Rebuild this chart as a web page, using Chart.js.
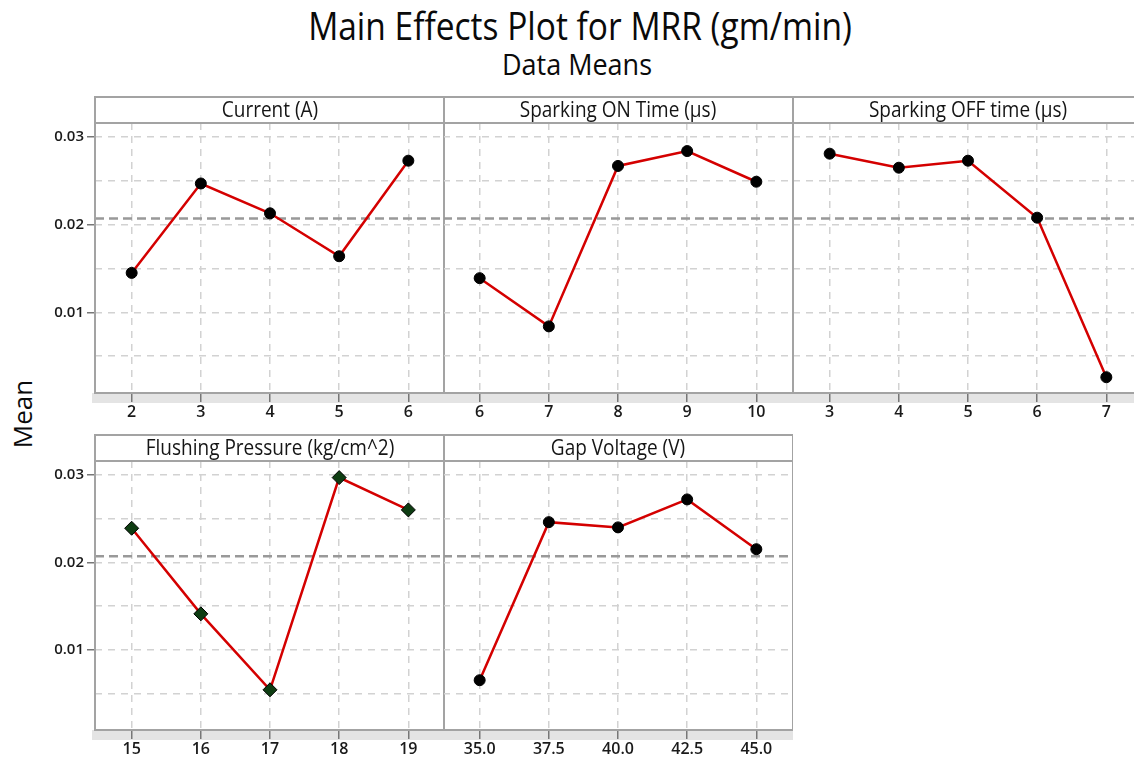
<!DOCTYPE html>
<html>
<head>
<meta charset="utf-8">
<script src="https://cdn.jsdelivr.net/npm/chart.js@4.4.1/dist/chart.umd.min.js"></script>
<style>
  body { margin: 0; background: #fff; font-family: "Open Sans", sans-serif; }
  #page { position: relative; width: 1134px; height: 763px; overflow: hidden; }
  canvas { position: absolute; }
  .txt { position: absolute; color: #0a0a0a; text-align: center; white-space: nowrap; }
</style>
</head>
<body>
<div id="page">
  <div class="txt" style="left:230px; top:2px; width:700px; font-size:33.5px; transform:scaleY(1.12);">Main Effects Plot for MRR (gm/min)</div>
  <div class="txt" style="left:427px; top:45px; width:300px; font-size:27px; transform:scaleY(1.1);">Data Means</div>
  <div class="txt" style="left:-28px; top:396px; width:100px; font-size:26px; transform:rotate(-90deg);">Mean</div>
</div>
<script>
// valeurs //
const currentLevels = [2, 3, 4, 5, 6];
const currentMeans = [0.0145, 0.0247, 0.0213, 0.0164, 0.0273];

const sparkOnLevels = [6, 7, 8, 9, 10];
const sparkOnMeans = [0.0139, 0.0084, 0.0267, 0.0284, 0.0249];

const sparkOffLevels = [3, 4, 5, 6, 7];
const sparkOffMeans = [0.0281, 0.0265, 0.0273, 0.0208, 0.0026];

const flushLevels = [15, 16, 17, 18, 19];
const flushMeans = [0.0239, 0.0141, 0.0054, 0.0297, 0.0260];

const gapLevels = [35.0, 37.5, 40.0, 42.5, 45.0];
const gapMeans = [0.0065, 0.0246, 0.0240, 0.0272, 0.0215];

const grandMean = 0.0207;
const yTicks = [0.005, 0.01, 0.015, 0.02, 0.025, 0.03];
const yMin = 0.0008, yMax = 0.0316;

const page = document.getElementById('page');

// cadre, bandeau du titre et bande grise sous le graphique
const panelFrame = {
  id: 'panelFrame',
  beforeDraw(chart) {
    const ctx = chart.ctx, a = chart.chartArea;
    ctx.save();
    ctx.fillStyle = '#e4e4e4';
    ctx.fillRect(a.left - 3, a.bottom, a.right - a.left + 3, 10);
    ctx.restore();
  },
  afterDraw(chart, args, opts) {
    const ctx = chart.ctx, a = chart.chartArea;
    ctx.save();
    ctx.strokeStyle = '#a3a3a3';
    ctx.lineWidth = 2;
    ctx.strokeRect(a.left, 1, a.right - a.left, a.bottom - 1);
    ctx.beginPath();
    ctx.moveTo(a.left, a.top);
    ctx.lineTo(a.right, a.top);
    ctx.stroke();
    ctx.fillStyle = '#151515';
    ctx.font = '19px "Open Sans"';
    ctx.textAlign = 'center';
    ctx.textBaseline = 'middle';
    ctx.translate((a.left + a.right) / 2, a.top / 2 + 1);
    ctx.scale(1, 1.12);
    ctx.fillText(opts.title, 0, 0);
    ctx.restore();
  }
};

function makePanel(o) {
  const yw = o.firstCol ? 65 : 0;
  const cv = document.createElement('canvas');
  cv.width = 350 + yw;
  cv.height = o.height;
  cv.style.left = (o.left - yw) + 'px';
  cv.style.top = o.top + 'px';
  page.appendChild(cv);

  const step = o.levels[1] - o.levels[0];
  const xmin = o.levels[0] - 0.53 * step;
  const xmax = o.levels[o.levels.length - 1] + 0.53 * step;

  const pts = o.levels.map((lv, i) => ({ x: lv, y: o.means[i] }));

  new Chart(cv, {
    type: 'line',
    data: {
      datasets: [
        {
          // ligne de la moyenne générale
          data: [{ x: xmin, y: grandMean }, { x: xmax, y: grandMean }],
          borderColor: '#999',
          borderWidth: 2.5,
          borderDash: [9, 5],
          pointRadius: 0,
          order: 2
        },
        {
          data: pts,
          borderColor: '#d40000',
          borderWidth: 2.5,
          pointStyle: o.diamond ? 'rectRot' : 'circle',
          pointRadius: o.diamond ? 7 : 5.5,
          pointBackgroundColor: o.diamond ? '#0e3d12' : '#000',
          pointBorderColor: '#000',
          pointBorderWidth: 1,
          order: 1
        }
      ]
    },
    options: {
      responsive: false,
      animation: false,
      layout: { autoPadding: false, padding: { top: 27, left: 0, right: 0, bottom: 0 } },
      plugins: {
        legend: { display: false },
        tooltip: { enabled: false },
        panelFrame: { title: o.title }
      },
      scales: {
        x: {
          type: 'linear',
          min: xmin,
          max: xmax,
          afterBuildTicks: s => { s.ticks = o.levels.map(v => ({ value: v })); },
          afterFit: s => { s.height = 32; },
          ticks: {
            color: '#1a1a1a',
            font: { family: 'Open Sans', size: 16, weight: '600' },
            padding: 1,
            maxRotation: 0,
            callback: v => o.fmt ? v.toFixed(1) : String(v)
          },
          grid: { color: '#d2d2d2', lineWidth: 1.5, tickLength: 9, tickColor: '#777', tickBorderDash: [] },
          border: { display: false, dash: [7, 6] }
        },
        y: {
          min: yMin,
          max: yMax,
          afterBuildTicks: s => { s.ticks = yTicks.map(v => ({ value: v })); },
          afterFit: s => { s.width = yw; },
          ticks: {
            display: o.firstCol,
            color: '#1a1a1a',
            font: { family: 'Open Sans', size: 15, weight: '600' },
            padding: 3,
            callback: v => (Math.round(v * 1000) % 10 === 0) ? v.toFixed(2) : ''
          },
          grid: {
            color: '#d2d2d2',
            lineWidth: 1.5,
            tickLength: o.firstCol ? 8 : 0,
            tickColor: c => (Math.round(c.tick.value * 1000) % 10 === 0) ? '#777' : 'rgba(0,0,0,0)',
            tickBorderDash: []
          },
          border: { display: false, dash: [7, 6] }
        }
      }
    },
    plugins: [panelFrame]
  });
}

makePanel({ title: 'Current (A)', levels: currentLevels, means: currentMeans, left: 95, top: 96, height: 329, firstCol: true });
makePanel({ title: 'Sparking ON Time (\u00b5s)', levels: sparkOnLevels, means: sparkOnMeans, left: 443, top: 96, height: 329 });
makePanel({ title: 'Sparking OFF time (\u00b5s)', levels: sparkOffLevels, means: sparkOffMeans, left: 793, top: 96, height: 329 });
makePanel({ title: 'Flushing Pressure (kg/cm^2)', levels: flushLevels, means: flushMeans, left: 95, top: 434, height: 328, firstCol: true, diamond: true });
makePanel({ title: 'Gap Voltage (V)', levels: gapLevels, means: gapMeans, left: 443, top: 434, height: 328, fmt: true });
</script>
</body>
</html>
